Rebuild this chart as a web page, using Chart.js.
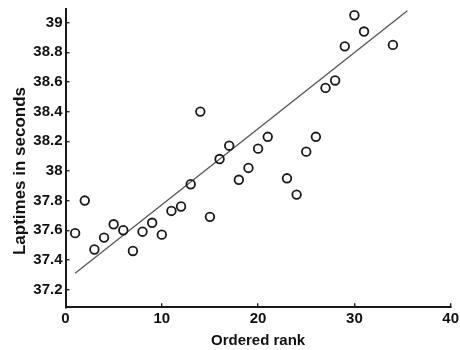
<!DOCTYPE html>
<html>
<head>
<meta charset="utf-8">
<script src="https://cdn.jsdelivr.net/npm/chart.js@4/dist/chart.umd.min.js"></script>
<style>
  html, body { margin: 0; padding: 0; background: #fff; }
  #wrap { width: 460px; height: 350px; position: relative; }
</style>
</head>
<body>
<div id="wrap"><canvas id="c" width="460" height="350"></canvas></div>
<script>
// Lap times (seconds) against ordered rank
const ranks = [1, 2, 3, 4, 5, 6, 7, 8, 9, 10, 11, 12, 13, 14, 15,
               16, 17, 18, 19, 20, 21, 23, 24, 25, 26, 27, 28, 29, 30, 31, 34];
const laptimes = [37.58, 37.80, 37.47, 37.55, 37.64, 37.60, 37.46, 37.59, 37.65, 37.57,
                  37.73, 37.76, 37.91, 38.40, 37.69,
                  38.08, 38.17, 37.94, 38.02, 38.15, 38.23, 37.95, 37.84, 38.13, 38.23,
                  38.56, 38.61, 38.84, 39.05, 38.94, 38.85];

// Least-squares trend line end points
const fitX = [1, 35.5];
const fitY = [37.31, 39.08];

const xTicks = [0, 10, 20, 30, 40];
const yTicks = [37.2, 37.4, 37.6, 37.8, 38, 38.2, 38.4, 38.6, 38.8, 39];

const xTitle = 'Ordered rank';
const yTitle = 'Laptimes in seconds';

const FONT = '"Liberation Sans", Arial, Helvetica, sans-serif';

const points = ranks.map((r, i) => ({ x: r, y: laptimes[i] }));
const fitLine = fitX.map((x, i) => ({ x: x, y: fitY[i] }));

// Vertical axis caption, drawn beside the y axis
const yCaption = {
  id: 'yCaption',
  afterDraw(chart) {
    const ctx = chart.ctx;
    ctx.save();
    ctx.translate(20, 171);
    ctx.rotate(-Math.PI / 2);
    ctx.font = 'bold 17px ' + FONT;
    ctx.fillStyle = '#111';
    ctx.textAlign = 'center';
    ctx.textBaseline = 'middle';
    ctx.fillText(yTitle, 0, 0);
    ctx.restore();
  }
};

// Let edge tick labels overhang the plot instead of shrinking it
function noEdgePadding(scale) {
  scale.paddingTop = 0;
  scale.paddingBottom = 0;
  scale.paddingLeft = 0;
  scale.paddingRight = 0;
}

new Chart(document.getElementById('c'), {
  type: 'scatter',
  data: {
    datasets: [
      {
        label: 'Lap times',
        data: points,
        showLine: false,
        pointStyle: 'circle',
        pointRadius: 4.3,
        pointBorderWidth: 1.8,
        pointBorderColor: '#1a1a1a',
        pointBackgroundColor: 'rgba(255,255,255,0)',
        order: 1
      },
      {
        label: 'Trend',
        type: 'line',
        data: fitLine,
        showLine: true,
        borderColor: '#555',
        borderWidth: 1.3,
        pointRadius: 0,
        fill: false,
        order: 2
      }
    ]
  },
  options: {
    responsive: false,
    animation: false,
    devicePixelRatio: 1,
    layout: { padding: { top: 9.3, right: 9.3, left: 0, bottom: 0 } },
    plugins: {
      legend: { display: false },
      tooltip: { enabled: false }
    },
    scales: {
      x: {
        type: 'linear',
        min: 0,
        max: 40,
        afterBuildTicks(scale) { scale.ticks = xTicks.map(v => ({ value: v })); },
        afterFit(scale) { scale.height = 42.7; noEdgePadding(scale); },
        grid: { drawOnChartArea: false, drawTicks: true, tickLength: -4, color: '#222', lineWidth: 1.4 },
        border: { display: true, color: '#1a1a1a', width: 2 },
        ticks: {
          padding: 7,
          color: '#111',
          font: { family: FONT, size: 15, weight: 'bold' },
          maxRotation: 0,
          callback: v => String(v)
        },
        title: {
          display: true,
          text: xTitle,
          color: '#111',
          font: { family: FONT, size: 15, weight: 'bold' },
          padding: { top: 0, bottom: 0 }
        }
      },
      y: {
        type: 'linear',
        min: 37.08,
        max: 39.09,
        afterBuildTicks(scale) { scale.ticks = yTicks.map(v => ({ value: v })); },
        afterFit(scale) { scale.width = 65.5; noEdgePadding(scale); },
        grid: { drawOnChartArea: false, drawTicks: true, tickLength: -4, color: '#222', lineWidth: 1.4 },
        border: { display: true, color: '#1a1a1a', width: 2 },
        ticks: {
          padding: 7,
          color: '#111',
          font: { family: FONT, size: 15, weight: 'bold' },
          callback: v => String(Math.round(v * 10) / 10)
        },
        title: { display: false }
      }
    }
  },
  plugins: [yCaption]
});
</script>
</body>
</html>
